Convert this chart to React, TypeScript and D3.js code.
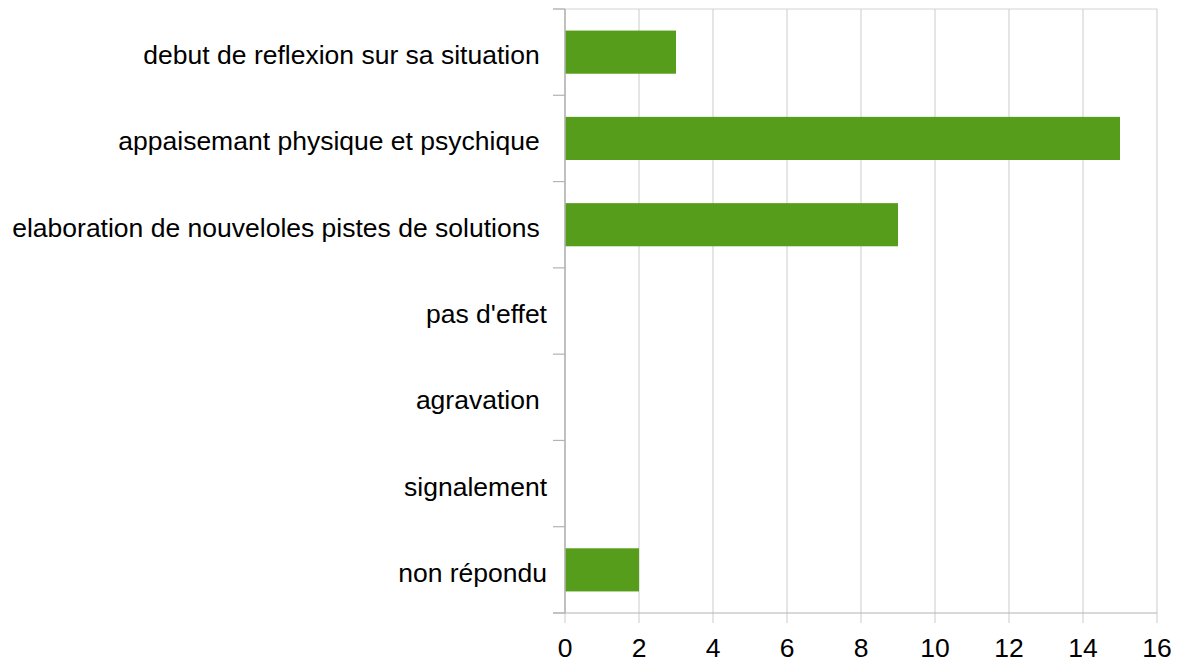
import * as React from 'react';
import * as d3 from 'd3';

// categories, top to bottom (trailing spaces kept as in the source labels)
const categories = [
    'debut de reflexion sur sa situation ',
    'appaisemant physique et psychique ',
    'elaboration de nouveloles pistes de solutions ',
    "pas d'effet",
    'agravation ',
    'signalement',
    'non répondu',
]
const counts = [3, 15, 9, 0, 0, 0, 2]
const xTicks = [0, 2, 4, 6, 8, 10, 12, 14, 16]

const width = 1181
const height = 663
const margin = {top: 9, right: 24, bottom: 50, left: 565}
const font = '"Liberation Sans", Arial, sans-serif'

const App = () => {
    const innerWidth = width - margin.left - margin.right
    const innerHeight = height - margin.top - margin.bottom

    const x = d3.scaleLinear().domain([0, 16]).range([0, innerWidth])
    const y = d3.scaleBand<string>().domain(categories).range([0, innerHeight]).paddingInner(0.5).paddingOuter(0.25)
    // band boundaries for the y ticks
    const step = innerHeight / categories.length
    const bounds = d3.range(categories.length + 1).map(i => i * step)

    return (
        <svg width={width} height={height} style={{position: 'absolute', left: 0, top: 0}}>
            <g transform={`translate(${margin.left},${margin.top})`}>
                {xTicks.map(t => (
                    <line key={'g' + t} x1={x(t)} x2={x(t)} y1={0} y2={innerHeight + 10}
                        stroke="#d4d4d4" strokeWidth={1.2} />
                ))}
                <line x1={-12} x2={innerWidth} y1={0} y2={0} stroke="#d4d4d4" strokeWidth={1.2} />
                {counts.map((v, i) => (
                    <rect key={i} x={x(0)} y={y(categories[i])} width={x(v) - x(0)}
                        height={y.bandwidth()} fill="#579d1c" />
                ))}
                {bounds.map((b, i) => (
                    <line key={'t' + i} x1={-12} x2={0} y1={b} y2={b} stroke="#b3b3b3" strokeWidth={1.2} />
                ))}
                <line x1={0} x2={0} y1={0} y2={innerHeight} stroke="#b3b3b3" strokeWidth={1.5} />
                <line x1={-12} x2={innerWidth} y1={innerHeight} y2={innerHeight} stroke="#b3b3b3" strokeWidth={1.2} />
                {categories.map(c => (
                    <text key={c} x={-18} y={y(c)! + y.bandwidth() / 2 + 3} textAnchor="end"
                        dominantBaseline="central" fontFamily={font} fontSize={26.5} fill="#000"
                        style={{whiteSpace: 'pre'}}>{c}</text>
                ))}
                {xTicks.map(t => (
                    <text key={'l' + t} x={x(t)} y={innerHeight + 44} textAnchor="middle"
                        fontFamily={font} fontSize={26.5} fill="#000">{t}</text>
                ))}
            </g>
        </svg>
    )
}

export default App
